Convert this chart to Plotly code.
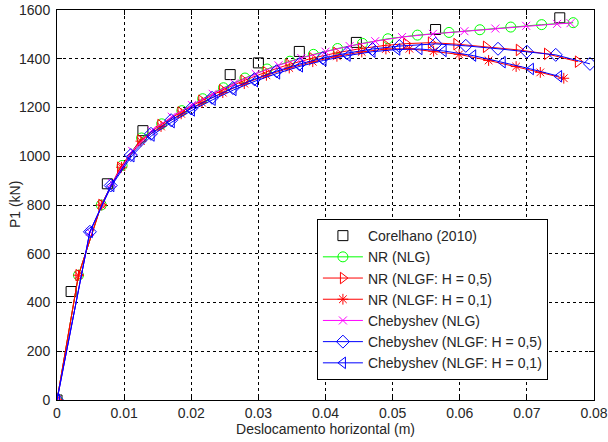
import plotly.graph_objects as go

# Corelhano (2010) reference points
cor_x = [0, 0.0021, 0.0075, 0.0128, 0.0258, 0.0300, 0.0361, 0.0446, 0.0564, 0.0749]
cor_y = [0, 445, 887, 1105, 1335, 1383, 1430, 1467, 1520, 1568]

# NR (NLG)
nr_nlg_x = [0, 0.0032, 0.0066, 0.0097, 0.0126, 0.0156, 0.0186, 0.0217, 0.0248, 0.0280, 0.0313,
            0.0347, 0.0382, 0.0418, 0.0455, 0.0493, 0.0537, 0.0584, 0.0630, 0.0676, 0.0722, 0.0769]
nr_nlg_y = [0, 512, 800, 962, 1075, 1133, 1187, 1236, 1281, 1321, 1358,
            1390, 1418, 1442, 1463, 1482, 1497, 1508, 1519, 1530, 1540, 1548]

# NR (NLGF: H = 0,5)
nr_h05_x = [0, 0.0032, 0.0066, 0.0094, 0.0124, 0.0154, 0.0184, 0.0215, 0.0246, 0.0278, 0.0311, 0.0345,
            0.0380, 0.0416, 0.0453, 0.0490, 0.0520, 0.0557, 0.0595, 0.0639, 0.0688, 0.0730, 0.0776]
nr_h05_y = [0, 512, 800, 953, 1065, 1128, 1180, 1228, 1271, 1310, 1345, 1376,
            1402, 1424, 1442, 1455, 1462, 1466, 1460, 1449, 1436, 1420, 1388]

# NR (NLGF: H = 0,1)
nr_h01_x = [0, 0.0032, 0.0066, 0.0096, 0.0125, 0.0155, 0.0185, 0.0216, 0.0247, 0.0279, 0.0312, 0.0346,
            0.0381, 0.0417, 0.0454, 0.0490, 0.0525, 0.0561, 0.0599, 0.0643, 0.0684, 0.0720, 0.0755]
nr_h01_y = [0, 512, 800, 955, 1062, 1122, 1174, 1220, 1261, 1298, 1332, 1362,
            1388, 1410, 1428, 1440, 1441, 1431, 1418, 1393, 1368, 1344, 1320]

# Chebyshev (NLG)
ch_nlg_x = [0, 0.0049, 0.0082, 0.0112, 0.0141, 0.0171, 0.0201, 0.0232, 0.0264, 0.0296, 0.0330,
            0.0364, 0.0400, 0.0436, 0.0474, 0.0514, 0.0560, 0.0607, 0.0653, 0.0699, 0.0745, 0.0765]
ch_nlg_y = [0, 690, 890, 1022, 1105, 1162, 1210, 1256, 1299, 1338, 1373,
            1403, 1429, 1452, 1472, 1489, 1502, 1513, 1524, 1535, 1543, 1546]

# Chebyshev (NLGF: H = 0,5)
ch_h05_x = [0, 0.0049, 0.0080, 0.0110, 0.0140, 0.0170, 0.0200, 0.0231, 0.0262, 0.0294, 0.0327,
            0.0361, 0.0396, 0.0432, 0.0470, 0.0510, 0.0564, 0.0609, 0.0657, 0.0700, 0.0743, 0.0794]
ch_h05_y = [0, 690, 880, 1005, 1092, 1148, 1196, 1240, 1280, 1316, 1349,
            1378, 1403, 1423, 1440, 1452, 1461, 1453, 1441, 1429, 1416, 1379]

# Chebyshev (NLGF: H = 0,1)
ch_h01_x = [0, 0.0049, 0.0081, 0.0111, 0.0141, 0.0171, 0.0201, 0.0232, 0.0263, 0.0295, 0.0328,
            0.0362, 0.0397, 0.0433, 0.0470, 0.0507, 0.0540, 0.0576, 0.0620, 0.0664, 0.0706, 0.0748]
ch_h01_y = [0, 690, 878, 1000, 1085, 1140, 1188, 1232, 1272, 1308, 1340,
            1369, 1393, 1413, 1429, 1438, 1440, 1432, 1413, 1386, 1358, 1328]

x_ticks = [0, 0.01, 0.02, 0.03, 0.04, 0.05, 0.06, 0.07, 0.08]
x_labels = ["0", "0.01", "0.02", "0.03", "0.04", "0.05", "0.06", "0.07", "0.08"]
y_ticks = [0, 200, 400, 600, 800, 1000, 1200, 1400, 1600]

FONT = "Liberation Sans, Arial, sans-serif"
TXT = "#262626"

fig = go.Figure()

fig.add_trace(go.Scatter(x=cor_x, y=cor_y, mode="markers", name="Corelhano (2010)",
                         marker=dict(symbol="square-open", size=10, color="black",
                                     line=dict(width=1, color="black"))))

series = [
    (nr_nlg_x, nr_nlg_y, "NR (NLG)", "#00ff00", "circle-open", 10),
    (nr_h05_x, nr_h05_y, "NR (NLGF: H = 0,5)", "#ff0000", "triangle-right-open", 10),
    (nr_h01_x, nr_h01_y, "NR (NLGF: H = 0,1)", "#ff0000", "asterisk-open", 9),
    (ch_nlg_x, ch_nlg_y, "Chebyshev (NLG)", "#ff00ff", "x-thin-open", 8),
    (ch_h05_x, ch_h05_y, "Chebyshev (NLGF: H = 0,5)", "#0000ff", "diamond-open", 10),
    (ch_h01_x, ch_h01_y, "Chebyshev (NLGF: H = 0,1)", "#0000ff", "triangle-left-open", 10),
]
for xs, ys, name, col, sym, sz in series:
    fig.add_trace(go.Scatter(x=xs, y=ys, mode="lines+markers", name=name,
                             line=dict(color=col, width=1),
                             marker=dict(symbol=sym, size=sz, color=col,
                                         line=dict(width=1, color=col))))

axis_common = dict(
    showline=True, linecolor="black", linewidth=1, mirror="ticks",
    ticks="inside", ticklen=5, tickcolor="black", tickwidth=1,
    showgrid=True, gridcolor="black", gridwidth=1, griddash="3px,3px",
    zeroline=False, automargin=False,
    tickfont=dict(family=FONT, size=14, color=TXT),
)

fig.update_xaxes(range=[0, 0.08], tickvals=x_ticks, ticktext=x_labels,
                 title=dict(text="Deslocamento horizontal (m)",
                            font=dict(family=FONT, size=14, color=TXT), standoff=2),
                 **axis_common)
fig.update_yaxes(range=[0, 1600], tickvals=y_ticks, ticklabelstandoff=3,
                 **axis_common)

fig.add_annotation(text="P1 (kN)", xref="paper", yref="paper", x=-0.078, y=0.5,
                   xanchor="center", yanchor="middle", textangle=-90, showarrow=False,
                   font=dict(family=FONT, size=14, color=TXT))

fig.update_layout(
    width=608, height=442,
    margin=dict(l=57, r=14, t=10, b=42, autoexpand=False),
    paper_bgcolor="white", plot_bgcolor="white",
    font=dict(family=FONT, size=14, color=TXT),
    showlegend=True,
    legend=dict(x=0.484, y=0.464, xanchor="left", yanchor="top",
                bgcolor="white", bordercolor="black", borderwidth=1,
                font=dict(family=FONT, size=14, color=TXT),
                itemwidth=40),
)

fig.write_html("out.html")
